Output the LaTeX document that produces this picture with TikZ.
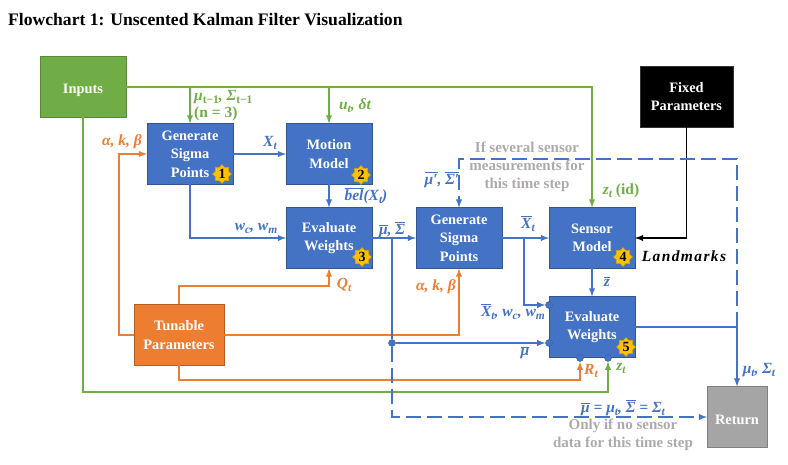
\documentclass[tikz,border=0pt]{standalone}
\usepackage{fontspec}
\setmainfont{Liberation Serif}
\usetikzlibrary{positioning,shapes.geometric}
\definecolor{myblue}{HTML}{4472C4}
\definecolor{myorange}{HTML}{ED7D31}
\definecolor{mygreen}{HTML}{70AD47}
\definecolor{mygray}{HTML}{A5A5A5}
\definecolor{mytext}{HTML}{AEAAAA}
\definecolor{mygold}{HTML}{FFC000}
\newcommand{\ovl}[1]{\vbox{\hrule height 0.9pt\kern 1.2pt\hbox{#1}}}
\newcommand{\lo}[1]{\raisebox{-3pt}{\fontsize{11.5}{11.5}\selectfont #1}}
\begin{document}
\begin{tikzpicture}[x=1pt,y=1pt]
\tikzstyle{main}=[rectangle, minimum width = 86pt, minimum height = 61pt, inner sep = 0pt, outer sep = 0pt, align = center, text = white, line width = 0.8pt, font = \fontsize{14.4}{18.5}\selectfont\bfseries, execute at begin node = {\rule{0pt}{15.5pt}}]
\tikzstyle{bluebox}=[main, fill = myblue, draw = myblue!75!black]
\tikzstyle{badge}=[star, star points = 8, star point ratio = 1.35, minimum size = 19pt, inner sep = 0pt, fill = mygold, draw = mygold!85!black, text = black, font = \fontsize{14}{14}\selectfont\bfseries]
\tikzstyle{dotnode}=[circle, fill = myblue, draw = myblue!85!black, minimum size = 7pt, inner sep = 0pt]
\tikzstyle{connect}=[-latex, line width = 1.8pt]
\tikzstyle{bluelink}=[connect, draw = myblue]
\tikzstyle{orangelink}=[connect, draw = myorange]
\tikzstyle{greenlink}=[connect, draw = mygreen]
\tikzstyle{dashlink}=[bluelink, dash pattern = on 15pt off 6pt]
\tikzstyle{math}=[inner sep = 0pt, font = \fontsize{15.5}{17}\selectfont\bfseries\itshape]
\tikzstyle{note}=[inner sep = 0pt, align = center, text = mytext, font = \fontsize{15}{18}\selectfont\bfseries]
  \useasboundingbox (0,0) rectangle (788,-465);
  \node[inner sep = 0pt, anchor = west, font = \fontsize{17.6}{20}\selectfont\bfseries] (title) at (8,-20) {Flowchart 1: Unscented Kalman Filter Visualization};
  % boxes
  \node[main, fill = mygreen, draw = mygreen!80!black] (inputs) at (83,-87) {Inputs};
  \node[bluebox] (sigmaA) at (190,-154) {Generate\\Sigma\\Points};
  \node[bluebox] (motion) [right=53pt of sigmaA] {Motion\\Model};
  \node[bluebox] (evalA) [below=23pt of motion] {Evaluate\\Weights};
  \node[bluebox] (sigmaB) [right=44pt of evalA] {Generate\\Sigma\\Points};
  \node[bluebox] (sensor) [right=47pt of sigmaB] {Sensor\\Model};
  \node[bluebox] (evalB) [below=28pt of sensor] {Evaluate\\Weights};
  \node[main, fill = black, draw = black!80, minimum width = 93pt] (fixed) at (686.5,-96.5) {Fixed\\Parameters};
  \node[main, fill = myorange, draw = myorange!75!black, minimum width = 90pt] (tunable) at (179,-335) {Tunable\\Parameters};
  \node[main, fill = mygray, draw = black!50, minimum width = 60pt] (result) at (737,-417) {Return};
  % badges
  \node[badge] (badgeA) at (222,-174) {1};
  \node[badge] (badgeB) at (361,-175) {2};
  \node[badge] (badgeC) at (362,-257) {3};
  \node[badge] (badgeD) at (623,-257) {4};
  \node[badge] (badgeE) at (626,-347) {5};
  % junctions
  \node[dotnode] (dotA) at (549,-305) {};
  \node[dotnode] (dotB) at (549,-343) {};
  \node[dotnode] (dotC) at (580,-358) {};
  \node[dotnode] (dotD) at (608,-358) {};
  \node[dotnode] (dotE) at (392,-343) {};
  \coordinate (splitA) at (evalA.east -| dotE);
  \coordinate (splitB) at (524,-238);
  \coordinate (cornerB) at (evalB.east -| result);
  \coordinate (cornerC) at (737,-159);
  \coordinate (cornerD) at (sigmaB |- cornerC);
  \coordinate (cornerE) at (82,-392);
  \coordinate (cornerF) at (580,-380);
  % green
  \draw [greenlink] (inputs.east) -| (sensor.north);
  \draw [greenlink] (inputs -| sigmaA) -- (sigmaA.north);
  \draw [greenlink] (inputs -| motion) -- (motion.north);
  \draw [greenlink] (inputs.south) -- (inputs |- cornerE) -| (dotD);
  % orange
  \draw [orangelink] (tunable.west) -- (119,-335) |- (sigmaA.west);
  \draw [orangelink] (tunable.north) |- (329,-286) -- (evalA.south);
  \draw [orangelink] (tunable.east) -| (sigmaB.south);
  \draw [orangelink] (tunable.south) |- (cornerF) -- (dotC);
  % black
  \draw [connect, black] (fixed.south) |- (sensor.east);
  % blue
  \path (sigmaA) edge [bluelink] (motion)
           (motion) edge [bluelink] (evalA)
           (evalA) edge [bluelink] (sigmaB)
           (sigmaB) edge [bluelink] (sensor)
           (sensor) edge [bluelink] (evalB)
           (dotE) edge [bluelink] (dotB);
  \draw [bluelink] (sigmaA.south) |- (evalA.west);
  \draw [bluelink] (splitB) |- (dotA);
  \draw [bluelink, -] (splitA) -- (dotE);
  \draw [bluelink] (evalB.east) -| (result.north);
  \draw [dashlink] (dotE) |- (result.west);
  \draw [dashlink] (cornerB) -- (cornerC) -- (cornerD) -- (sigmaB.north);
  % labels
  \node[math, text = mygreen, align = left, anchor = west] (lblA) at (194,-106) {μ\lo{\upshape t−1}, Σ\lo{\upshape t−1}\\{\upshape (n = 3)}};
  \node[math, text = mygreen] (lblB) at (355,-106) {u\lo{t}, δt};
  \node[math, text = myorange] (lblC) at (122,-142) {α, k, β};
  \node[math, text = myblue] (lblD) at (270,-143) {X\lo{t}};
  \node[math, text = myblue] (lblE) at (256,-228) {w\lo{c}, w\lo{m}};
  \node[math, text = myblue] (lblF) at (366,-196) {\ovl{bel}(X\lo{t})};
  \node[math, text = myblue] (lblG) at (392,-230) {\ovl{μ}, \ovl{Σ}};
  \node[math, text = myblue] (lblH) at (442,-180) {\ovl{μ′}, \ovl{Σ′}};
  \node[note] (noteA) at (527,-167) {If several sensor\\measurements for\\this time step};
  \node[math, text = mygreen] (lblI) at (621,-191) {z\lo{t} {\upshape(id)}};
  \node[math, text = myblue] (lblJ) at (528,-224) {\ovl{X}\lo{t}};
  \node[math, text = black] (lblK) at (684,-256) {\addfontfeatures{LetterSpace=9}Landmarks};
  \node[math, text = myblue] (lblL) at (607,-282) {\ovl{z}};
  \node[math, text = myorange] (lblM) at (436,-287) {α, k, β};
  \node[math, text = myblue] (lblN) at (513,-312) {\ovl{X}\lo{t}, w\lo{c}, w\lo{m}};
  \node[math, text = myblue] (lblO) at (525,-353) {\ovl{μ}};
  \node[math, text = myorange] (lblP) at (591,-371) {R\lo{t}};
  \node[math, text = mygreen] (lblQ) at (621,-368) {z\lo{t}};
  \node[math, text = myblue] (lblR) at (759,-370) {μ\lo{t}, Σ\lo{t}};
  \node[math, text = myblue] (lblS) at (623,-408) {\ovl{μ} = μ\lo{t}, \ovl{Σ} = Σ\lo{t}};
  \node[note] (noteB) at (623,-435) {Only if no sensor\\data for this time step};
  \node[math, text = myorange] (lblT) at (344,-285) {Q\lo{t}};
\end{tikzpicture}
\end{document}
